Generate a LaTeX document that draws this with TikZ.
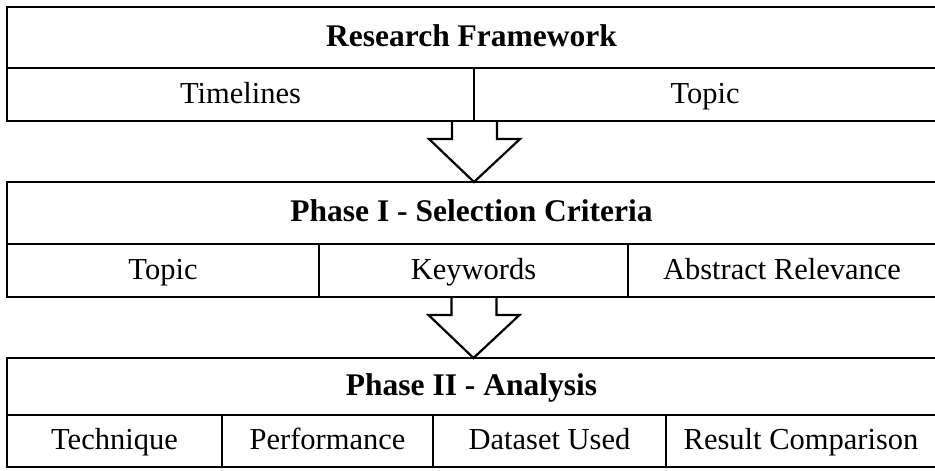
\documentclass[tikz,border=0pt]{standalone}
\usepackage{fontspec}
\setmainfont{Liberation Serif}
\usetikzlibrary{calc}
\begin{document}
\begin{tikzpicture}[x=1pt,y=-1pt,
  cell/.style={draw, line width=2.4pt, inner sep=0pt, outer sep=0pt, anchor=north west,
    text height=22pt, text depth=4.5pt, font=\fontsize{30.5}{34}\selectfont},
  headcell/.style={cell, font=\fontsize{31.5}{35}\selectfont\bfseries},
  blockarrow/.style={draw, line width=2.2pt, line join=miter}]
\useasboundingbox (0,0) rectangle (935,471);
% Box 1
\node[headcell, minimum width=929pt, minimum height=61pt] (rf) at (7,7) {Research Framework};
\node[cell, minimum width=467pt, minimum height=53pt] (timelines) at (7,68) {Timelines};
\node[cell, minimum width=462pt, minimum height=53pt] (topic1) at (474,68) {Topic};
% Box 2
\node[headcell, minimum width=929pt, minimum height=62pt] (phase1) at (7,182) {Phase I - Selection Criteria};
\node[cell, minimum width=312pt, minimum height=53pt] (topic2) at (7,244) {Topic};
\node[cell, minimum width=309pt, minimum height=53pt] (keywords) at (319,244) {Keywords};
\node[cell, minimum width=308pt, minimum height=53pt] (abstract) at (628,244) {Abstract Relevance};
% Box 3
\node[headcell, minimum width=929pt, minimum height=57pt] (phase2) at (7,358) {Phase II - Analysis};
\node[cell, minimum width=215pt, minimum height=52pt] (technique) at (7,415) {Technique};
\node[cell, minimum width=211pt, minimum height=52pt] (performance) at (222,415) {Performance};
\node[cell, minimum width=233pt, minimum height=52pt] (dataset) at (433,415) {Dataset Used};
\node[cell, minimum width=270pt, minimum height=52pt] (result) at (666,415) {Result Comparison};
% Arrows
\coordinate (a1) at (timelines.south east);
\coordinate (t1) at (a1 |- phase1.north);
\draw[blockarrow] ($(a1)+(-22,0)$) -- ++(0,18) -- ++(-23,0) -- (t1)
  -- ($(a1)+(46,18)$) -- ++(-23,0) -- ++(0,-18);
\coordinate (a2) at (keywords.south);
\coordinate (t2) at (a2 |- phase2.north);
\draw[blockarrow] ($(a2)+(-22,0)$) -- ++(0,18) -- ++(-23,0) -- (t2)
  -- ($(a2)+(46,18)$) -- ++(-23,0) -- ++(0,-18);
\end{tikzpicture}
\end{document}
